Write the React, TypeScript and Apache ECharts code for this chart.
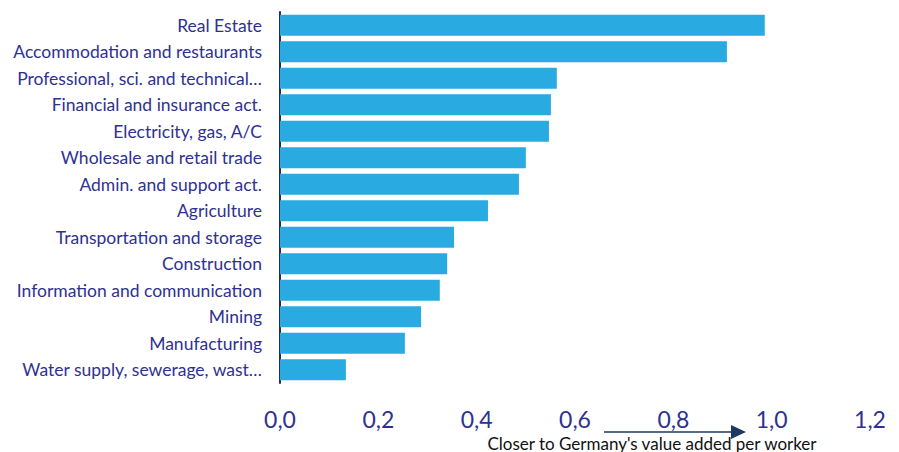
import React, { useEffect, useRef } from "react";
import * as echarts from "echarts";

const categories = [
  "Real Estate",
  "Accommodation and restaurants",
  "Professional, sci. and technical…",
  "Financial and insurance act.",
  "Electricity, gas, A/C",
  "Wholesale and retail trade",
  "Admin. and support act.",
  "Agriculture",
  "Transportation and storage",
  "Construction",
  "Information and communication",
  "Mining",
  "Manufacturing",
  "Water supply, sewerage, wast…",
];
const values = [0.986, 0.909, 0.563, 0.551, 0.547, 0.5, 0.486, 0.423, 0.354, 0.34, 0.325, 0.287, 0.254, 0.134];
const xTicks = { min: 0, max: 1.2, interval: 0.2 };
const arrowLabel = "Closer to Germany's value added per worker";

export default function App() {
  const ref = useRef<HTMLDivElement>(null);
  useEffect(() => {
    document.body.style.margin = "0";
    const chart = echarts.init(ref.current!, null, { renderer: "svg" });
    const labelColor = "#2E3192";
    const font = "Lato, 'Open Sans', sans-serif";
    chart.setOption({
      animation: false,
      grid: { left: 280, right: 29, top: 12, bottom: 69, containLabel: false },
      xAxis: {
        type: "value",
        min: xTicks.min,
        max: xTicks.max,
        interval: xTicks.interval,
        axisLine: { show: false },
        axisTick: { show: false },
        splitLine: { show: false },
        axisLabel: {
          color: labelColor,
          fontSize: 23,
          fontFamily: font,
          margin: 24,
          formatter: (v: number) => v.toFixed(1).replace(".", ","),
        },
      },
      yAxis: {
        type: "category",
        inverse: true,
        data: categories,
        axisLine: { show: true, lineStyle: { color: "#1F2F5C", width: 2 } },
        axisTick: { show: false },
        axisLabel: { color: labelColor, fontSize: 17.5, fontFamily: font, margin: 18 },
      },
      series: [
        {
          type: "bar",
          data: values,
          barCategoryGap: "20%",
          itemStyle: { color: "#29ABE2" },
        },
      ],
      graphic: [
        {
          type: "line",
          shape: { x1: 604, y1: 432, x2: 734, y2: 432 },
          style: { stroke: "#1F3864", lineWidth: 1.5 },
        },
        {
          type: "polygon",
          shape: { points: [[731, 425], [746, 432], [731, 439]] },
          style: { fill: "#1F3864" },
        },
        {
          type: "text",
          x: 652,
          y: 443,
          style: {
            text: arrowLabel,
            fill: "#111",
            fontSize: 17,
            fontFamily: font,
            align: "center",
            verticalAlign: "middle",
          },
        },
      ],
    });
    return () => chart.dispose();
  }, []);
  return <div ref={ref} style={{ position: "absolute", left: 0, top: 0, width: 899, height: 452 }} />;
}
